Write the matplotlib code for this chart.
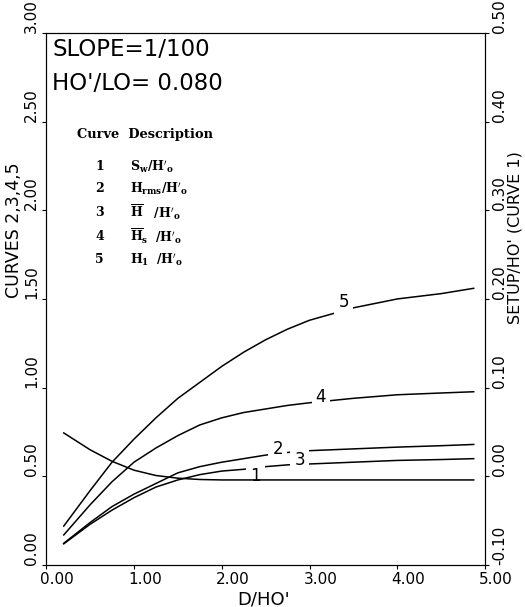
import matplotlib.pyplot as plt
from matplotlib.transforms import ScaledTranslation

plt.rcParams['font.family'] = ['DejaVu Sans']
plt.rcParams['mathtext.fontset'] = 'dejavuserif'

# depth ratio D/HO'
x = [0.2, 0.5, 0.75, 1.0, 1.25, 1.5, 1.75, 2.0, 2.25, 2.5, 2.75, 3.0, 3.5, 4.0, 4.5, 4.87]

# curves 2-5 (left axis)
curve5 = [0.22, 0.42, 0.58, 0.71, 0.83, 0.94, 1.03, 1.12, 1.20, 1.27, 1.33, 1.38, 1.45, 1.50, 1.53, 1.56]
curve4 = [0.17, 0.34, 0.47, 0.58, 0.66, 0.73, 0.79, 0.83, 0.86, 0.88, 0.90, 0.915, 0.94, 0.96, 0.97, 0.977]
curve2 = [0.123, 0.24, 0.33, 0.40, 0.46, 0.52, 0.555, 0.58, 0.60, 0.62, 0.635, 0.645, 0.655, 0.665, 0.673, 0.68]
curve3 = [0.12, 0.23, 0.31, 0.38, 0.44, 0.48, 0.51, 0.53, 0.54, 0.555, 0.565, 0.57, 0.58, 0.59, 0.595, 0.60]

# curve 1 setup (right axis)
curve1 = [0.049, 0.030, 0.017, 0.007, 0.001, -0.002, -0.0035, -0.004, -0.004, -0.004, -0.004, -0.004,
          -0.004, -0.004, -0.004, -0.004]

left_ticks = [0.0, 0.5, 1.0, 1.5, 2.0, 2.5, 3.0]
right_ticks = [-0.1, 0.0, 0.1, 0.2, 0.3, 0.4, 0.5]
x_ticks = [0, 1, 2, 3, 4, 5]

fig = plt.figure(figsize=(5.25, 6.07), dpi=100)
ax = fig.add_axes([0.088, 0.069, 0.836, 0.877])
ax2 = ax.twinx()

for y in [curve5, curve4, curve2, curve3]:
    ax.plot(x, y, color='black', lw=1.1)
ax2.plot(x, curve1, color='black', lw=1.1)

ax.set_xlim(0, 5)
ax.set_ylim(0, 3)
ax2.set_ylim(-0.1, 0.5)
ax.set_xticks(x_ticks)
ax.set_xticklabels(['%.2f' % t for t in x_ticks], fontsize=11)
ax.set_yticks(left_ticks)
ax.set_yticklabels(['%.2f' % t for t in left_ticks], fontsize=11, rotation=90, va='bottom')
ax2.set_yticks(right_ticks)
ax2.set_yticklabels(['%.2f' % t for t in right_ticks], fontsize=11, rotation=90, va='bottom')
ax.tick_params(direction='out', length=3, pad=2)
ax2.tick_params(direction='out', length=3, pad=2)

# shift x tick labels a little right like the original plotter
off = ScaledTranslation(8 / 72, 0, fig.dpi_scale_trans)
for lab in ax.get_xticklabels():
    lab.set_transform(lab.get_transform() + off)

ax.set_xlabel("D/HO'", fontsize=13)
ax.xaxis.set_label_coords(0.495, -0.047)
ax.set_ylabel("CURVES 2,3,4,5", fontsize=12.5)
ax.yaxis.set_label_coords(-0.052, 0.63)
ax2.set_ylabel("SETUP/HO' (CURVE 1)", fontsize=11.5)
ax2.yaxis.set_label_coords(1.052, 0.615)

# curve labels (white box breaks the line)
box = dict(facecolor='white', edgecolor='none', pad=3)
ax.text(3.39, 1.48, '5', fontsize=12, ha='center', va='center', bbox=box)
ax.text(3.13, 0.95, '4', fontsize=12, ha='center', va='center', bbox=box)
ax.text(2.64, 0.655, '2', fontsize=12, ha='center', va='center', bbox=box)
ax.text(2.89, 0.59, '3', fontsize=12, ha='center', va='center', bbox=box)
ax.text(2.38, 0.50, '1', fontsize=12, ha='center', va='center', bbox=box)

ax.text(0.07, 2.97, 'SLOPE=1/100', fontsize=16.5, va='top')
ax.text(0.07, 2.78, "HO'/LO= 0.080", fontsize=16.5, va='top')

ax.text(0.353, 2.425, 'Curve  Description', fontsize=9.4, family='serif', weight='bold', va='center')
names = [r"$\mathbf{S_w/H'_o}$", r"$\mathbf{H_{rms}/H'_o}$", r"$\mathbf{\overline{H}\ \ \ /H'_o}$",
         r"$\mathbf{\overline{H}_s\ \ /H'_o}$", r"$\mathbf{H_1\ \ /H'_o}$"]
rows = [2.245, 2.12, 1.985, 1.85, 1.72]
for i, (r, n) in enumerate(zip(rows, names)):
    ax.text(0.56, r, str(i + 1), fontsize=9, family='serif', weight='bold', va='center')
    ax.text(0.957, r, n, fontsize=9, va='center')

fig.savefig('out.png', dpi=100)
